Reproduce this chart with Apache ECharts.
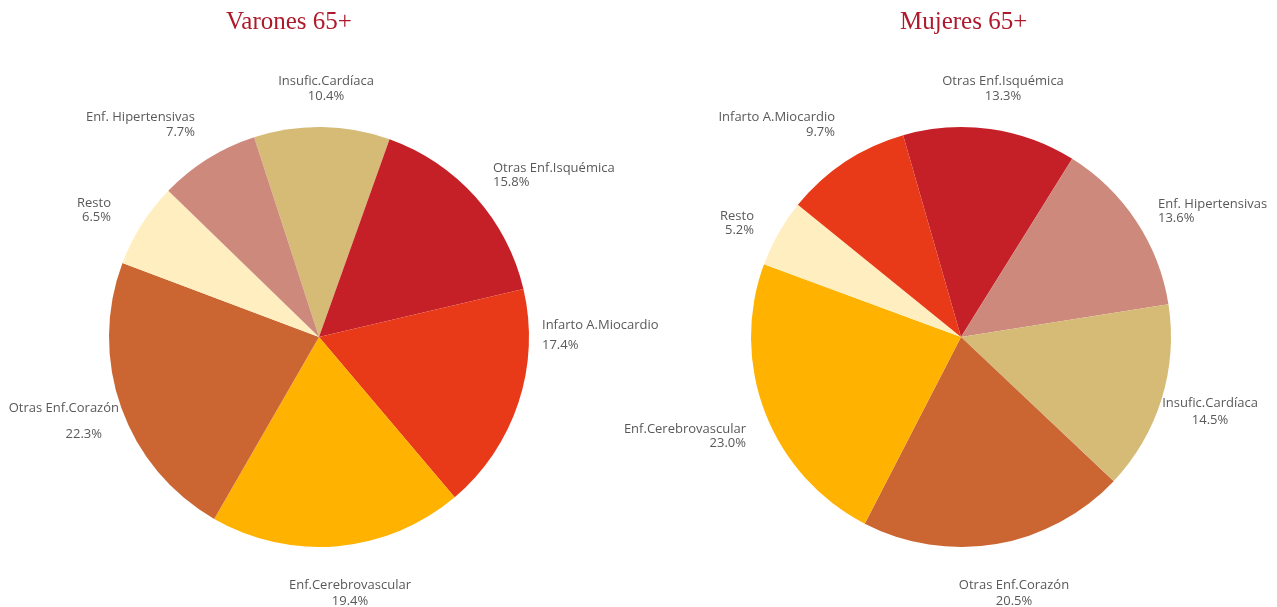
<!DOCTYPE html>
<html><head><meta charset="utf-8">
<script src="https://cdn.jsdelivr.net/npm/echarts@6/dist/echarts.min.js"></script>
<style>html,body{margin:0;padding:0;background:#fff}#c{width:1277px;height:607px}</style>
</head><body><div id="c"></div>
<script>
const titles = ['Varones 65+', 'Mujeres 65+'];
const menNames = ['Insufic.Cardíaca','Otras Enf.Isquémica','Infarto A.Miocardio','Enf.Cerebrovascular','Otras Enf.Corazón','Resto','Enf. Hipertensivas'];
const menValues = [10.4, 15.8, 17.4, 19.4, 22.3, 6.5, 7.7];
const womenNames = ['Otras Enf.Isquémica','Enf. Hipertensivas','Insufic.Cardíaca','Otras Enf.Corazón','Enf.Cerebrovascular','Resto','Infarto A.Miocardio'];
const womenValues = [13.3, 13.6, 14.5, 20.5, 23.0, 5.2, 9.7];

const colorMap = {
  'Insufic.Cardíaca':'#D6BB76',
  'Otras Enf.Isquémica':'#C52027',
  'Infarto A.Miocardio':'#E83A18',
  'Enf.Cerebrovascular':'#FFB300',
  'Otras Enf.Corazón':'#CB6633',
  'Resto':'#FFEFC0',
  'Enf. Hipertensivas':'#CD897B'
};

// label placement (text anchor, alignment, line spacing) per series
const labelPlace = [
  {
    'Insufic.Cardíaca':   {x:326, y:89,  align:'center', lh:15},
    'Otras Enf.Isquémica':{x:493, y:175, align:'left',   lh:14},
    'Infarto A.Miocardio':{x:542, y:335, align:'left',   lh:20},
    'Enf.Cerebrovascular':{x:350, y:593, align:'center', lh:16},
    'Otras Enf.Corazón':  {x:119, y:421, align:'right',  lh:26, padR:17},
    'Resto':              {x:111, y:210, align:'right',  lh:14},
    'Enf. Hipertensivas': {x:195, y:125, align:'right',  lh:15}
  },
  {
    'Otras Enf.Isquémica':{x:1003, y:89,  align:'center', lh:15},
    'Enf. Hipertensivas': {x:1158, y:211, align:'left',   lh:14},
    'Insufic.Cardíaca':   {x:1210, y:412, align:'center', lh:17},
    'Otras Enf.Corazón':  {x:1014, y:593, align:'center', lh:16},
    'Enf.Cerebrovascular':{x:746,  y:436, align:'right',  lh:14},
    'Resto':              {x:754,  y:223, align:'right',  lh:14},
    'Infarto A.Miocardio':{x:835,  y:125, align:'right',  lh:15}
  }
];

function mk(names, values, si){
  return names.map((n,i)=>{
    const pl = labelPlace[si][n];
    return {
      name:n, value:values[i], itemStyle:{color:colorMap[n]},
      label:{
        lineHeight:pl.lh, align:pl.align,
        rich:{ p:{fontFamily:'Open Sans', fontSize:13, color:'#595959', lineHeight:pl.lh, padding:[0, pl.padR||0, 0, 0]} }
      }
    };
  });
}

const lbl = {
  show:true, position:'outside',
  formatter: p => p.name + '\n{p|' + p.value.toFixed(1) + '%}',
  fontFamily:'Open Sans', fontSize:13, color:'#595959', overflow:'none'
};

function layoutFn(si){
  return function(params){
    const name = (si===0?menNames:womenNames)[params.dataIndex];
    const pl = labelPlace[si][name];
    return {x:pl.x, y:pl.y, align:pl.align, verticalAlign:'middle', hideOverlap:false, moveOverlap:null};
  };
}

const titleStyle = {fontFamily:'Liberation Serif', fontSize:25, fontWeight:'normal', color:'#AE1A2B'};

const chart = echarts.init(document.getElementById('c'));
chart.setOption({
  animation:false,
  title:[
    {text:titles[0], left:221, top:5, textStyle:titleStyle},
    {text:titles[1], left:895, top:5, textStyle:titleStyle}
  ],
  series:[
    {type:'pie', center:[319,337], radius:210, startAngle:108, clockwise:true,
     label:lbl, labelLine:{show:false}, labelLayout:layoutFn(0),
     emphasis:{disabled:true},
     data:mk(menNames, menValues, 0)},
    {type:'pie', center:[961,337], radius:210, startAngle:106, clockwise:true,
     label:lbl, labelLine:{show:false}, labelLayout:layoutFn(1),
     emphasis:{disabled:true},
     data:mk(womenNames, womenValues, 1)}
  ]
});
</script></body></html>
